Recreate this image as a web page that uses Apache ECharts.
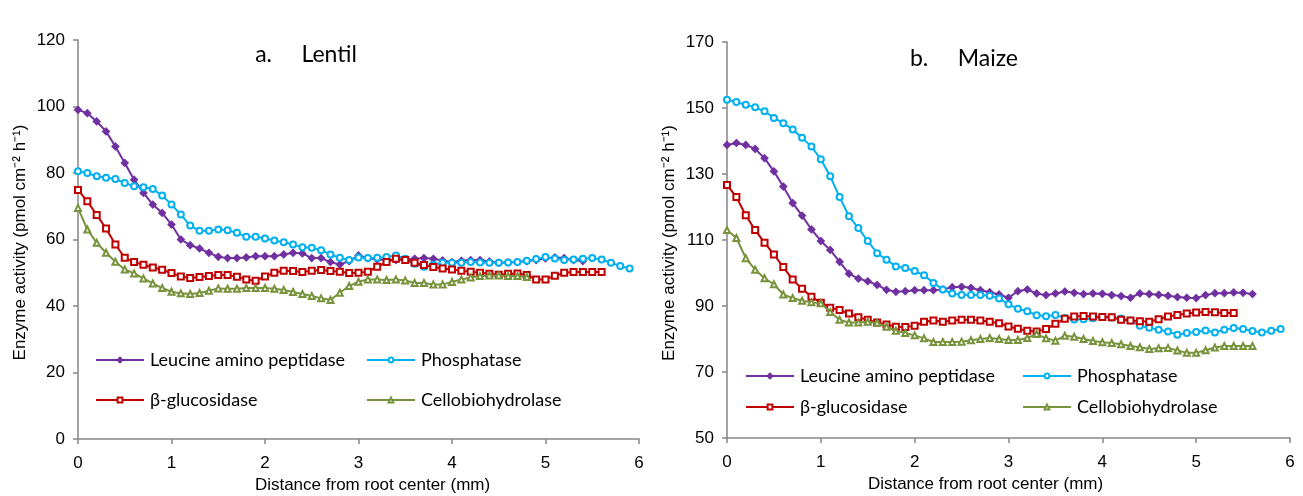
<!DOCTYPE html>
<html>
<head>
<meta charset="utf-8">
<script src="https://cdn.jsdelivr.net/npm/echarts@6/dist/echarts.min.js"></script>
<style>
  html, body { margin: 0; padding: 0; background: #fff; }
  #chart { width: 1303px; height: 496px; }
</style>
</head>
<body>
<div id="chart"></div>
<script>
// distance from root center (mm), sampled every 0.1 mm
const distance = [
  0.0, 0.1, 0.2, 0.3, 0.4, 0.5, 0.6, 0.7, 0.8, 0.9,
  1.0, 1.1, 1.2, 1.3, 1.4, 1.5, 1.6, 1.7, 1.8, 1.9,
  2.0, 2.1, 2.2, 2.3, 2.4, 2.5, 2.6, 2.7, 2.8, 2.9,
  3.0, 3.1, 3.2, 3.3, 3.4, 3.5, 3.6, 3.7, 3.8, 3.9,
  4.0, 4.1, 4.2, 4.3, 4.4, 4.5, 4.6, 4.7, 4.8, 4.9,
  5.0, 5.1, 5.2, 5.3, 5.4, 5.5, 5.6, 5.7, 5.8, 5.9
];

// a. Lentil
const lentilLeucine = [
  99, 98, 95.5, 92.5, 88, 83, 78, 74, 70.5, 68,
  64.5, 60, 58.3, 57.3, 56, 54.8, 54.4, 54.4, 54.6, 55,
  55, 55, 55.5, 56, 55.8, 54.4, 54.4, 53.2, 52.5, 53.5,
  55.2, 54.4, 54, 53.8, 53.8, 54, 54.2, 54.4, 54.2, 53.7,
  53.2, 53.6, 53.8, 53.8, 53.4, 53, 53.1, 53.2, 53.5, 53.8,
  54.3, 54.6, 54.4, 53.8, 53.5
];
const lentilPhosphatase = [
  80.5, 80, 79, 78.6, 78.2, 77, 76, 75.7, 75.2, 73.2,
  70.5, 67.5, 64.2, 62.6, 62.6, 63, 62.8, 62, 60.8, 60.8,
  60.3, 59.7, 59.2, 58.5, 57.7, 57.5, 56.8, 55.5, 54.5, 53.8,
  54.6, 54.4, 54.5, 54.7, 55.2, 54.2, 52.7, 51.8, 52.4, 53,
  53, 53, 53.2, 53.1, 53, 53, 53.1, 53.2, 53.6, 54.1,
  54.7, 54.3, 53.8, 54, 54.2, 54.4, 54, 53, 52, 51.3
];
const lentilGlucosidase = [
  74.9, 71.5, 67.4, 63.3, 58.5, 54.5, 53.2, 52.4, 51.6, 50.9,
  49.9, 48.9, 48.4, 48.7, 49, 49.3, 49.3, 48.8, 48, 47.6,
  48.9, 50, 50.6, 50.5, 50.2, 50.6, 50.8, 50.5, 50.3, 49.9,
  50, 50.3, 51.8, 53.2, 54.2, 53.8, 53, 52.3, 51.7, 51.3,
  51, 50.6, 50.3, 50, 49.7, 49.4, 49.7, 49.8, 49.3, 48,
  48, 49.1, 50, 50.2, 50.2, 50.2, 50.2
];
const lentilCellobio = [
  69.5, 63, 59, 56, 53.3, 51, 49.8, 48.3, 46.8, 45.4,
  44.3, 43.8, 43.6, 43.9, 44.6, 45.3, 45.2, 45.2, 45.4, 45.4,
  45.4, 45.2, 44.8, 44.2, 43.6, 43, 42.3, 41.8, 44, 46,
  47.3, 48, 48, 47.8, 48, 47.7, 46.9, 46.9, 46.5, 46.5,
  47.2, 48, 48.6, 49, 49.2, 49.2, 49, 49, 48.7
];

// b. Maize
const maizeLeucine = [
  138.8, 139.4, 138.8, 137.6, 134.8, 130.8, 126.2, 121.2, 117.4, 113.2,
  109.7, 107, 103.4, 99.8, 98.3, 97.5, 96.4, 94.9, 94.3, 94.5,
  94.8, 94.8, 94.8, 95, 95.7, 95.8, 95.5, 94.8, 94.2, 93.5,
  92.5, 94.5, 95, 93.8, 93.3, 93.8, 94.4, 94, 93.6, 93.8,
  93.7, 93.3, 93, 92.5, 93.8, 93.6, 93.4, 93.1, 92.7, 92.5,
  92.4, 93.3, 93.9, 93.9, 94.1, 94, 93.6
];
const maizePhosphatase = [
  152.5, 151.8, 151, 150.2, 149, 147, 145.4, 143.5, 141, 138.3,
  134.5, 129.3, 123, 117.2, 113.6, 109.7, 106, 104, 102, 101.5,
  100.6, 99.3, 97, 95, 93.8, 93.3, 93.3, 93.3, 93.1, 92.3,
  90.5, 89.2, 88.4, 87.2, 86.9, 87.3, 86.4, 85.9, 86, 86.3,
  86.7, 86.5, 86.2, 85.6, 84, 83.4, 82.8, 82.3, 81.3, 81.8,
  82.1, 82.6, 82, 82.8, 83.3, 83, 82.4, 82, 82.5, 83
];
const maizeGlucosidase = [
  126.7, 123, 117.5, 113, 109.2, 105.6, 101.8, 98, 95.2, 92.8,
  91, 89.5, 88.8, 87.7, 86.6, 85.8, 85, 84.4, 83.7, 83.6,
  84, 85.2, 85.6, 85.2, 85.6, 85.8, 85.8, 85.6, 85.2, 84.8,
  83.8, 83.1, 82.5, 82.3, 83, 84.6, 86.1, 86.8, 87, 86.8,
  86.7, 86.6, 85.8, 85.6, 85.4, 85.2, 86, 86.8, 87.3, 87.7,
  88, 88.2, 88.1, 87.9, 87.9
];
const maizeCellobio = [
  113, 110.6, 104.5, 101, 98.4, 96.6, 93.5, 92.4, 91.6, 91.1,
  90.8, 88.2, 85.8, 85, 85, 85.2, 84.9, 83.7, 82.5, 81.8,
  81.1, 80.2, 79.1, 79.1, 79.1, 79.2, 79.6, 80, 80.3, 80,
  79.7, 79.7, 80.3, 81.5, 80.2, 79.5, 81, 80.7, 80, 79.4,
  79, 78.8, 78.4, 77.9, 77.5, 77, 77.2, 77.3, 76.5, 75.8,
  75.8, 76.6, 77.4, 77.9, 77.9, 77.9, 77.9
];

const enzymes = ['Leucine amino peptidase', 'Phosphatase', 'β-glucosidase', 'Cellobiohydrolase'];
const colors = ['#7030A0', '#00B0F0', '#C00000', '#77933C'];
const symbols = ['diamond', 'emptyCircle', 'emptyRect', 'emptyTriangle'];
const symbolSizes = [7, 6, 6, 6];

const axisColor = '#868686';
const tickFont = 'Liberation Sans, Arial, sans-serif';
const textFont = 'Lato, "Open Sans", sans-serif';

function makeSeries(values, k, idx) {
  return {
    name: enzymes[k],
    type: 'line',
    xAxisIndex: idx,
    yAxisIndex: idx,
    data: values.map((v, i) => [distance[i], v]),
    symbol: symbols[k],
    symbolSize: symbolSizes[k],
    showSymbol: true,
    lineStyle: { color: colors[k], width: 2 },
    itemStyle: { color: colors[k], borderColor: colors[k], borderWidth: 1.2 },
    emphasis: { disabled: true },
    z: 2 + k
  };
}

function xAxis(idx, namePad) {
  return {
    type: 'value',
    gridIndex: idx,
    min: 0,
    max: 6,
    interval: 1,
    name: 'Distance from root center (mm)',
    nameLocation: 'middle',
    nameGap: 38,
    nameTextStyle: { fontFamily: tickFont, fontSize: 17, color: '#000', padding: namePad },
    axisLine: { show: true, lineStyle: { color: axisColor, width: 1.5 } },
    axisTick: { show: true, inside: false, length: 5, lineStyle: { color: axisColor, width: 1.5 } },
    axisLabel: { fontFamily: tickFont, fontSize: 17, color: '#000', margin: 16 },
    splitLine: { show: false }
  };
}

function yAxis(idx, min, max) {
  return {
    type: 'value',
    gridIndex: idx,
    min: min,
    max: max,
    interval: 20,
    name: 'Enzyme activity (pmol cm⁻² h⁻¹)',
    nameLocation: 'middle',
    nameRotate: 90,
    nameGap: 49,
    nameTextStyle: { fontFamily: tickFont, fontSize: 17, color: '#000', padding: [0, 6, 0, 0] },
    axisLine: { show: true, lineStyle: { color: axisColor, width: 1.5 } },
    axisTick: { show: true, inside: false, length: 5, lineStyle: { color: axisColor, width: 1.5 } },
    axisLabel: { fontFamily: tickFont, fontSize: 17, color: '#000', margin: 13 },
    splitLine: { show: false }
  };
}

function legendItem(k, left, top) {
  return {
    data: [enzymes[k]],
    left: left,
    top: top,
    padding: 0,
    itemWidth: 48,
    itemHeight: 6,
    itemGap: 0,
    selectedMode: false,
    textStyle: { fontFamily: textFont, fontSize: 18, color: '#000', padding: [0, 0, 0, 1] }
  };
}

const chart = echarts.init(document.getElementById('chart'));

const option = {
  animation: false,
  backgroundColor: '#fff',
  title: [
    { text: 'a.     Lentil', left: 301, top: 38, textAlign: 'center',
      textStyle: { fontFamily: textFont, fontSize: 23, fontWeight: 'normal', color: '#000' } },
    { text: 'b.     Maize', left: 959, top: 42, textAlign: 'center',
      textStyle: { fontFamily: textFont, fontSize: 23, fontWeight: 'normal', color: '#000' } }
  ],
  grid: [
    { left: 78, top: 40, width: 561, height: 399, containLabel: false, outerBoundsMode: 'none' },
    { left: 727, top: 42, width: 563, height: 396, containLabel: false, outerBoundsMode: 'none' }
  ],
  xAxis: [xAxis(0, [0, 0, 0, 28]), xAxis(1, [0, 46, 0, 0])],
  yAxis: [yAxis(0, 0, 120), yAxis(1, 50, 170)],
  legend: [
    legendItem(0, 95, 351),
    legendItem(1, 366, 351),
    legendItem(2, 95, 391),
    legendItem(3, 366, 391),
    legendItem(0, 745, 367),
    legendItem(1, 1022, 367),
    legendItem(2, 745, 398),
    legendItem(3, 1022, 398)
  ],
  series: [
    makeSeries(lentilLeucine, 0, 0),
    makeSeries(lentilPhosphatase, 1, 0),
    makeSeries(lentilGlucosidase, 2, 0),
    makeSeries(lentilCellobio, 3, 0),
    makeSeries(maizeLeucine, 0, 1),
    makeSeries(maizePhosphatase, 1, 1),
    makeSeries(maizeGlucosidase, 2, 1),
    makeSeries(maizeCellobio, 3, 1)
  ]
};

chart.setOption(option);
</script>
</body>
</html>
